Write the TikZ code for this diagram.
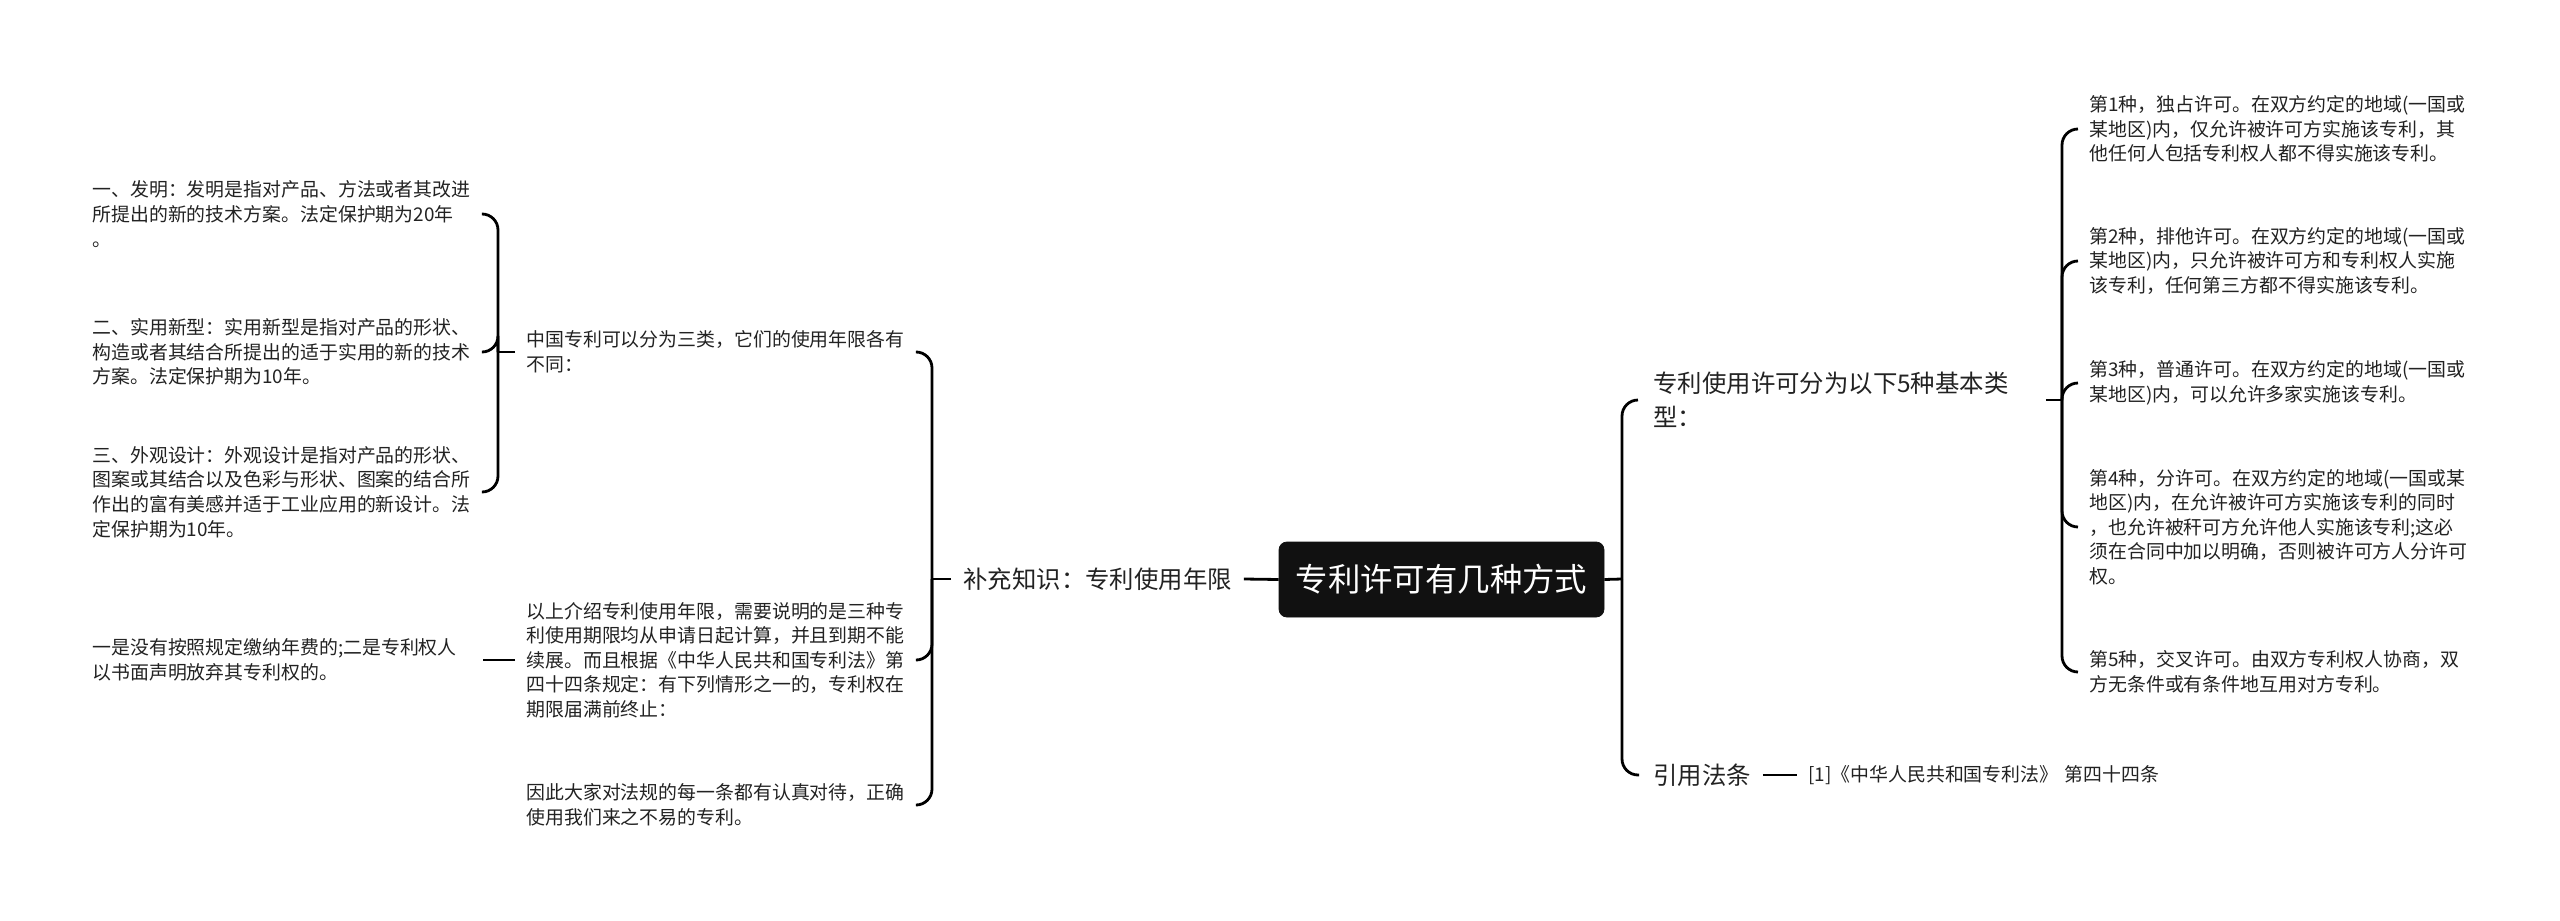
\documentclass[tikz,border=0pt]{standalone}
\usepackage{fontspec}
\setmainfont{Noto Sans CJK SC}
\definecolor{txt}{HTML}{222222}
\definecolor{rootfill}{HTML}{111111}
\begin{document}
\begin{tikzpicture}[x=0.5pt,y=-0.5pt,
  leaf/.style={anchor=west,inner ysep=0pt,align=left,text=txt,
    font=\fontsize{9.45}{12.3}\selectfont},
  mid/.style={anchor=west,inner ysep=0pt,align=left,text=txt,
    font=\fontsize{12.2}{17}\selectfont},
  rootbox/.style={draw=rootfill,fill=rootfill,rounded corners=4pt,text=white,
    minimum width=162.5pt,minimum height=37.5pt,inner sep=0pt,
    font=\fontsize{16.2}{20}\selectfont},
  conn/.style={line width=1.4pt,draw=black,rounded corners=8pt}]
\useasboundingbox (0,0) rectangle (2560,921);
% root
\node[rootbox] (root) at (1441.5,579.5) {专利许可有几种方式};
% left branch
\node[mid,text width=134pt,inner xsep=6pt] (bc) at (951,579) {补充知识：专利使用年限};
\node[leaf,text width=190pt,inner xsep=5.5pt] (zg) at (515,352) {中国专利可以分为三类，它们的使用年限各有\\不同：};
\node[leaf,text width=190pt,inner xsep=5.5pt] (ys) at (515,660) {以上介绍专利使用年限，需要说明的是三种专\\利使用期限均从申请日起计算，并且到期不能\\续展。而且根据《中华人民共和国专利法》第\\四十四条规定：有下列情形之一的，专利权在\\期限届满前终止：};
\node[leaf,text width=190pt,inner xsep=5.5pt] (yc) at (515,805) {因此大家对法规的每一条都有认真对待，正确\\使用我们来之不易的专利。};
\node[leaf,text width=190pt,inner xsep=5pt] (fm) at (82,214) {一、发明：发明是指对产品、方法或者其改进\\所提出的新的技术方案。法定保护期为20年\\。};
\node[leaf,text width=190pt,inner xsep=5pt] (syx) at (82,352) {二、实用新型：实用新型是指对产品的形状、\\构造或者其结合所提出的适于实用的新的技术\\方案。法定保护期为10年。};
\node[leaf,text width=190pt,inner xsep=5pt] (wg) at (82,492) {三、外观设计：外观设计是指对产品的形状、\\图案或其结合以及色彩与形状、图案的结合所\\作出的富有美感并适于工业应用的新设计。法\\定保护期为10年。};
\node[leaf,text width=190pt,inner xsep=5pt] (zz) at (82,660) {一是没有按照规定缴纳年费的;二是专利权人\\以书面声明放弃其专利权的。};
% right branch
\node[mid,text width=188.5pt,inner xsep=7.5pt] (lx) at (1638,400) {专利使用许可分为以下5种基本类\\型：};
\node[mid,text width=47.5pt,inner xsep=7pt] (yy) at (1639,775) {引用法条};
\node[leaf,text width=176pt,inner xsep=5.5pt] (ref) at (1797,775) {[1]《中华人民共和国专利法》 第四十四条};
\node[leaf,text width=192pt,inner xsep=5.5pt] (t1) at (2078,129) {第1种，独占许可。在双方约定的地域(一国或\\某地区)内，仅允许被许可方实施该专利，其\\他任何人包括专利权人都不得实施该专利。};
\node[leaf,text width=192pt,inner xsep=5.5pt] (t2) at (2078,261) {第2种，排他许可。在双方约定的地域(一国或\\某地区)内，只允许被许可方和专利权人实施\\该专利，任何第三方都不得实施该专利。};
\node[leaf,text width=192pt,inner xsep=5.5pt] (t3) at (2078,383) {第3种，普通许可。在双方约定的地域(一国或\\某地区)内，可以允许多家实施该专利。};
\node[leaf,text width=192pt,inner xsep=5.5pt] (t4) at (2078,527) {第4种，分许可。在双方约定的地域(一国或某\\地区)内，在允许被许可方实施该专利的同时\\，也允许被秆可方允许他人实施该专利;这必\\须在合同中加以明确，否则被许可方人分许可\\权。};
\node[leaf,text width=192pt,inner xsep=5.5pt] (t5) at (2078,672) {第5种，交叉许可。由双方专利权人协商，双\\方无条件或有条件地互用对方专利。};
% junction points
\coordinate (b1) at (498,352);
\coordinate (b2) at (932,579);
\coordinate (b3) at (1622,579);
\coordinate (b4) at (2062,400);
% connectors
\draw[conn] (root.west) -- (bc.east);
\draw[conn] (bc.west) -- (b2);
\draw[conn] (b2) |- (zg.east);
\draw[conn] (b2) |- (ys.east);
\draw[conn] (b2) |- (yc.east);
\draw[conn] (zg.west) -- (b1);
\draw[conn] (b1) |- (fm.east);
\draw[conn] (b1) |- (syx.east);
\draw[conn] (b1) |- (wg.east);
\draw[conn] (ys.west) -- (zz.east);
\draw[conn] (root.east) -- (b3);
\draw[conn] (b3) |- (lx.west);
\draw[conn] (b3) |- (yy.west);
\draw[conn] (yy.east) -- (ref.west);
\draw[conn] (lx.east) -- (b4);
\draw[conn] (b4) |- (t1.west);
\draw[conn] (b4) |- (t2.west);
\draw[conn] (b4) |- (t3.west);
\draw[conn] (b4) |- (t4.west);
\draw[conn] (b4) |- (t5.west);
\end{tikzpicture}
\end{document}
